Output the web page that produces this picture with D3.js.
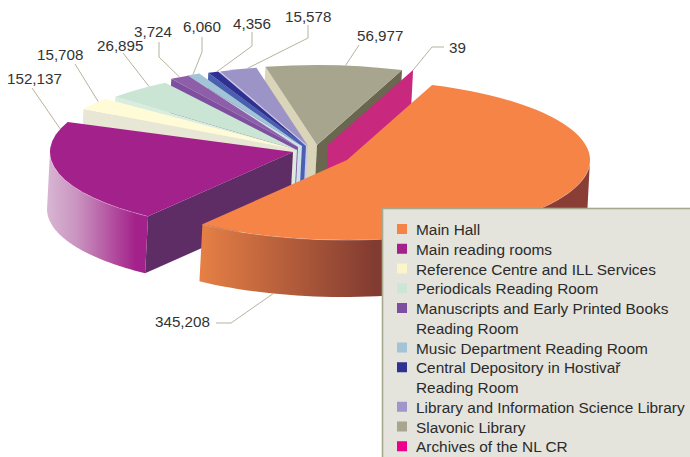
<!DOCTYPE html>
<html>
<head>
<meta charset="utf-8">
<script src="https://cdn.jsdelivr.net/npm/d3@7"></script>
<style>
  body { margin: 0; background: #fff; }
  text { font-family: "Liberation Sans", Arial, sans-serif; }
</style>
</head>
<body>
<svg width="690" height="457"></svg>
<script>
// values, in legend order
const categories = ["Main Hall", "Main reading rooms", "Reference Centre and ILL Services", "Periodicals Reading Room",
  "Manuscripts and Early Printed Books|Reading Room", "Music Department Reading Room",
  "Central Depository in Hostivař|Reading Room", "Library and Information Science Library", "Slavonic Library", "Archives of the NL CR"];
const visits = [345208, 152137, 15708, 26895, 3724, 6060, 4356, 15578, 56977, 39];

// colours
const swatchColors = ["#f58345", "#a3218a", "#fbf5c9", "#cce6d6", "#7e4fa1", "#a3c4d6", "#2e3192", "#9f97cb", "#a8a68e", "#ec008c"];
const topColors = ["#f68446", "#a3218a", "#fffbd6", "#cbe5d4", "#8e5fa8", "#a2c4d6", "#2e3192", "#9c93c6", "#a7a58e", "#e6007e"];
const startFaceColors = ["none", "#5f2d66", "#e8e6d5", "#d8ecdf", "#7e4f9f", "#cfe0ea", "#4a5fb0", "#ccc8e6", "#dad4b8", "none"];
const endFaceColors = ["none", "none", "none", "none", "none", "none", "none", "none", "#6b6650", "#c8297f"];

// exploded layout
const explodeX = [35, -19, -18, -15, -14, -10, -6, -4, 5, 16];
const explodeY = [8, 0, -3, -2, -5, -6, -6, -6, -7, -7];
const startNudge = [0, -2.2, -6.2, -3.6, -2.1, -1.1, 0, 0, 0, 0];
const endNudge = [-2.3, -14.2, -6.2, -3.5, 0.3, -1.3, 0, 0, 0, 0];
const drawOrder = [8, 7, 6, 5, 4, 3, 2, 1, 9, 0];

// label text position, elbow of the leader line, where on the slice rim it lands
const labelX = [155, 7, 37, 97, 134, 183, 233, 285, 357, 449];
const labelY = [327, 84, 60, 51, 37, 32, 29, 22, 41, 53];
const leaderElbows = [[[216, 323], [231, 323]], [[32, 88]], [[75, 64]], [[123, 53]], [[159, 42], [159, 57]],
  [[202, 37], [202, 52]], [[252, 32], [252, 46]], [[308, 25], [308, 38]], [[359, 45]], [[444, 47], [432, 47]]];
const leaderAt = [0.9, 0.93, 0.7, 0.7, 0.5, 0.5, 0.9, 0.75, 0.58, 0.5];

const cx = 312, cy = 152, rx = 243, ry = 80, depth = 57, lean = -3;
const rad = Math.PI / 180;

const svg = d3.select("svg");
const defs = svg.append("defs");

function wallGradient(id, stops) {
  const g = defs.append("linearGradient").attr("id", id);
  stops.forEach(s => g.append("stop").attr("offset", s[0]).attr("stop-color", s[1]));
}
wallGradient("wall0", [[0, "#e68045"], [0.45, "#823b31"], [1, "#8a3e35"]]);
wallGradient("wall1", [[0, "#d8b6d3"], [0.3, "#c993bf"], [0.88, "#a3218a"], [1, "#a3218a"]]);

const pie = d3.pie().sort(null).startAngle(20.5 * rad).endAngle(380.5 * rad);
const slices = pie(visits).map((d, i) => ({
  i: i,
  a0: d.startAngle + startNudge[i] * rad,
  a1: d.endAngle + endNudge[i] * rad,
  ax: cx + explodeX[i],
  ay: cy + explodeY[i]
}));

const rim = (s, a, drop) => [
  s.ax + rx * Math.sin(a) + (drop ? lean : 0),
  s.ay - ry * Math.cos(a) + (drop ? depth : 0)
];
const line = d3.line();
const arc = d3.arc().innerRadius(0).outerRadius(rx);

function face(g, s, a, color) {
  g.append("path")
    .attr("d", line([[s.ax, s.ay], rim(s, a), rim(s, a, true), [s.ax + lean, s.ay + depth]]) + "Z")
    .attr("fill", color);
}

drawOrder.forEach(i => {
  const s = slices[i];
  const g = svg.append("g");

  // faces of the cuts
  if (startFaceColors[i] !== "none") face(g, s, s.a0, startFaceColors[i]);
  if (endFaceColors[i] !== "none") face(g, s, s.a1, endFaceColors[i]);

  // outer wall, only the part turned to the viewer
  const from = Math.max(s.a0, 90 * rad), to = Math.min(s.a1, 270 * rad);
  if (to > from) {
    const angles = d3.range(0, 61).map(k => from + (to - from) * k / 60);
    const pts = angles.map(a => rim(s, a)).concat(angles.slice().reverse().map(a => rim(s, a, true)));
    g.append("path").attr("d", line(pts) + "Z").attr("fill", "url(#wall" + i + ")");
    // pale edge where the wall meets the top
    g.append("path").attr("d", line(angles.map(a => rim(s, a))))
      .attr("fill", "none").attr("stroke", "#fff").attr("stroke-opacity", 0.5).attr("stroke-width", 0.7);
  }

  // top
  g.append("path")
    .attr("transform", `translate(${s.ax},${s.ay}) scale(1,${ry / rx})`)
    .attr("d", arc({ startAngle: s.a0, endAngle: s.a1 }))
    .attr("fill", topColors[i]);
});

// leader lines and value labels
const fmt = d3.format(",");
slices.forEach(s => {
  const i = s.i;
  const a = s.a0 + (s.a1 - s.a0) * leaderAt[i];
  svg.append("path")
    .attr("d", line(leaderElbows[i].concat([rim(s, a, i === 0)])))
    .attr("fill", "none").attr("stroke", "#b5b39f").attr("stroke-width", 1);
  svg.append("text")
    .attr("x", labelX[i]).attr("y", labelY[i])
    .attr("font-size", 15.2).attr("fill", "#333")
    .text(fmt(visits[i]));
});

// legend
const legendX = 382.5, legendY = 208.5, rowH = 19.75;
svg.append("rect")
  .attr("x", legendX).attr("y", legendY)
  .attr("width", 320).attr("height", 260)
  .attr("fill", "#e4e3dc").attr("stroke", "#a8a88f").attr("stroke-width", 1.6);

let row = 0;
categories.forEach((c, i) => {
  svg.append("rect")
    .attr("x", 397).attr("y", 224 + row * rowH)
    .attr("width", 10).attr("height", 10)
    .attr("fill", swatchColors[i]);
  c.split("|").forEach(t => {
    svg.append("text")
      .attr("x", 416).attr("y", 235 + row * rowH)
      .attr("font-size", 15.4).attr("fill", "#2b2b2b")
      .text(t);
    row++;
  });
});
</script>
</body>
</html>
